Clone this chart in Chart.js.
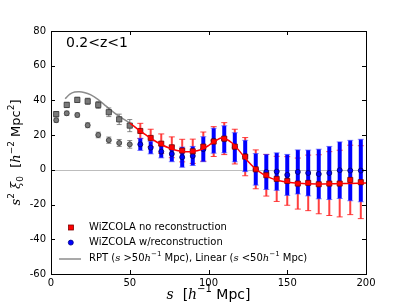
<!DOCTYPE html>
<html><head><meta charset="utf-8">
<script src="https://cdn.jsdelivr.net/npm/chart.js@4.4.1/dist/chart.umd.min.js"></script>
<style>html,body{margin:0;padding:0;background:#fff;overflow:hidden}</style>
</head><body>
<canvas id="c" width="407" height="305"></canvas>
<script>
// ---- data ----
const sBins = [3.3,10.0,16.7,23.3,30.0,36.7,43.3,50.0,56.7,63.3,70.0,76.7,83.3,90.0,96.7,103.3,110.0,116.7,123.3,130.0,136.7,143.3,150.0,156.7,163.3,170.0,176.7,183.3,190.0,196.7];
const xiNoRecon = [32.1,37.4,40.3,39.5,37.4,33.2,29.1,25.5,22.4,18.4,15.1,13.0,11.1,10.7,13.4,16.3,18.0,13.4,7.6,0.3,-3.1,-5.2,-6.4,-7.9,-7.5,-8.3,-7.9,-7.9,-5.8,-7.1];
const errNoRecon = [1.5,1.5,1.5,1.8,2.0,2.5,3.0,3.5,4.4,5.0,5.6,6.0,6.5,7.0,8.4,8.6,9.2,10.0,11.0,11.2,12.0,13.0,14.0,14.7,16.0,17.0,18.4,19.2,20.0,21.0];
const xiRecon = [28.6,32.6,31.6,25.7,20.1,17.1,15.5,14.7,14.7,12.8,10.5,9.2,7.3,8.0,11.9,16.8,17.6,13.0,8.0,0.3,-1.2,-1.0,-2.9,-1.2,-1.8,-2.4,-1.8,-0.2,-0.4,-0.4];
const errRecon = [1.2,1.2,1.2,1.4,1.6,1.8,2.0,2.2,3.5,3.6,3.6,4.5,5.8,5.5,7.2,7.2,7.8,8.4,9.0,9.1,10.1,10.8,11.8,12.7,13.2,14.3,15.3,16.3,17.4,18.0];
const nLinearBins = 8; // bins with s <= 50 shown in gray
const sLinear = [9,12,15,18,21,25,30,35,40,45,50];
const xiLinear = [41.0,43.6,44.8,45.0,44.6,43.3,40.5,36.7,33.0,29.8,27.0];
const sRPT = [50,55,60,65,70,75,80,85,90,95,100,105,108,110,115,120,125,130,135,140,145,150,160,170,180,190,200];
const xiRPT = [27.0,23.5,20.3,17.2,14.6,12.6,11.2,10.5,10.6,11.6,14.0,17.0,18.3,18.2,15.5,10.5,5.0,0.5,-2.7,-4.9,-6.3,-7.1,-7.9,-8.1,-8.0,-7.8,-7.6];
const xTicks = [0,50,100,150,200];
const yTicks = [-60,-40,-20,0,20,40,60,80];
const labels = ['WiZCOLA no reconstruction','WiZCOLA w/reconstruction'];
const zText = '0.2<z<1';

function pts(xs, ys){ return xs.map((x,i)=>({x:x, y:ys[i]})); }
const sLow = sBins.slice(0,nLinearBins), sHigh = sBins.slice(nLinearBins);

const SANS = '"DejaVu Sans", sans-serif';
const SERIF = '"DejaVu Serif", serif';

function drawErr(chart, xs, ys, es, color, lw, capColor, capW){
  const ctx = chart.ctx, xs_ = chart.scales.x, ys_ = chart.scales.y, a = chart.chartArea;
  ctx.save();
  ctx.beginPath(); ctx.rect(a.left, a.top, a.right-a.left, a.bottom-a.top); ctx.clip();
  for (let i=0;i<xs.length;i++){
    const px = xs_.getPixelForValue(xs[i]);
    const y1 = ys_.getPixelForValue(ys[i]-es[i]);
    const y2 = ys_.getPixelForValue(ys[i]+es[i]);
    ctx.strokeStyle = color; ctx.lineWidth = lw;
    ctx.beginPath(); ctx.moveTo(px,y1); ctx.lineTo(px,y2); ctx.stroke();
    ctx.strokeStyle = capColor; ctx.lineWidth = 1;
    ctx.beginPath();
    ctx.moveTo(px-capW/2,y1); ctx.lineTo(px+capW/2,y1);
    ctx.moveTo(px-capW/2,y2); ctx.lineTo(px+capW/2,y2);
    ctx.stroke();
  }
  ctx.restore();
}

function segFont(k, size){
  if (k==='i') return 'italic '+size+'px '+SERIF;
  if (k==='sup'||k==='sub') return Math.round(size*0.7)+'px '+SANS;
  return size+'px '+SANS;
}
function richWidth(ctx, segs, size){
  let w=0; for (const s of segs){ ctx.font = segFont(s.k,size); w += ctx.measureText(s.t).width; } return w;
}
function drawRich(ctx, x, y, segs, size){
  let cx = x;
  ctx.textBaseline = 'middle'; ctx.textAlign = 'left'; ctx.fillStyle = '#000';
  for (const s of segs){
    ctx.font = segFont(s.k,size);
    let dy = 0;
    if (s.k==='sup') dy = -size*0.38;
    if (s.k==='sub') dy = size*0.25;
    ctx.fillText(s.t, cx, y+dy);
    cx += ctx.measureText(s.t).width;
  }
}

const yTitle = [{t:'s',k:'i'},{t:'2',k:'sup'},{t:' ',k:'n'},{t:'ξ',k:'i'},{t:'0',k:'sub'},{t:'  [',k:'n'},{t:'h',k:'i'},{t:'−2',k:'sup'},{t:' Mpc',k:'n'},{t:'2',k:'sup'},{t:']',k:'n'}];
const xTitle = [{t:'s',k:'i'},{t:'  [',k:'n'},{t:'h',k:'i'},{t:'−1',k:'sup'},{t:' Mpc]',k:'n'}];
const lineLabel = [{t:'RPT (',k:'n'},{t:'s',k:'i'},{t:' >50',k:'n'},{t:'h',k:'i'},{t:'−1',k:'sup'},{t:' Mpc), Linear (',k:'n'},{t:'s',k:'i'},{t:' <50',k:'n'},{t:'h',k:'i'},{t:'−1',k:'sup'},{t:' Mpc)',k:'n'}];

const decor = {
  id: 'decor',
  beforeDatasetsDraw(chart){
    const ctx = chart.ctx, a = chart.chartArea, y0 = chart.scales.y.getPixelForValue(0);
    ctx.save(); ctx.strokeStyle = '#bdbdbd'; ctx.lineWidth = 1;
    ctx.beginPath(); ctx.moveTo(a.left, Math.round(y0)+0.5); ctx.lineTo(a.right, Math.round(y0)+0.5); ctx.stroke();
    ctx.restore();
  },
  beforeDatasetDraw(chart, args){
    const key = chart.data.datasets[args.index].key;
    if (key==='grayNo') drawErr(chart, sLow, xiNoRecon.slice(0,nLinearBins), errNoRecon.slice(0,nLinearBins), 'rgba(110,110,110,0.8)', 1.2, 'rgba(110,110,110,0.8)', 5);
    if (key==='grayRe') drawErr(chart, sLow, xiRecon.slice(0,nLinearBins), errRecon.slice(0,nLinearBins), 'rgba(110,110,110,0.8)', 1.2, 'rgba(110,110,110,0.8)', 5);
    if (key==='blue'){
      drawErr(chart, sHigh, xiNoRecon.slice(nLinearBins), errNoRecon.slice(nLinearBins), 'rgba(255,30,30,0.85)', 2, 'rgba(255,30,30,0.85)', 6);
      drawErr(chart, sHigh, xiRecon.slice(nLinearBins), errRecon.slice(nLinearBins), '#0000ff', 4, 'rgba(60,60,255,0.6)', 6);
    }
  },
  afterDraw(chart){
    const ctx = chart.ctx, a = chart.chartArea, sx = chart.scales.x, sy = chart.scales.y;
    ctx.save();
    ctx.strokeStyle = '#000'; ctx.lineWidth = 1;
    ctx.strokeRect(Math.round(a.left)+0.5, Math.round(a.top)+0.5, Math.round(a.right-a.left), Math.round(a.bottom-a.top));
    ctx.beginPath();
    for (const v of xTicks){ const p = Math.round(sx.getPixelForValue(v))+0.5;
      ctx.moveTo(p, a.bottom); ctx.lineTo(p, a.bottom-4); ctx.moveTo(p, a.top); ctx.lineTo(p, a.top+4); }
    for (const v of yTicks){ const p = Math.round(sy.getPixelForValue(v))+0.5;
      ctx.moveTo(a.left, p); ctx.lineTo(a.left+4, p); ctx.moveTo(a.right, p); ctx.lineTo(a.right-4, p); }
    ctx.stroke();
    ctx.fillStyle = '#000'; ctx.font = '14px '+SANS; ctx.textBaseline='middle'; ctx.textAlign='left';
    ctx.fillText(zText, 66, 43.5);
    ctx.font = '10px '+SANS;
    ctx.fillStyle = '#ff0000'; ctx.strokeStyle = '#800000'; ctx.lineWidth = 0.8;
    ctx.fillRect(68.5, 225, 5, 5); ctx.strokeRect(68.5, 225, 5, 5);
    ctx.fillStyle = '#000'; ctx.fillText(labels[0], 89, 227.5);
    ctx.fillStyle = '#0000ff'; ctx.strokeStyle = '#000080';
    ctx.beginPath(); ctx.arc(70.8, 242.6, 2.5, 0, Math.PI*2); ctx.fill(); ctx.stroke();
    ctx.fillStyle = '#000'; ctx.fillText(labels[1], 89, 242.6);
    ctx.strokeStyle = '#8c8c8c'; ctx.lineWidth = 1.5;
    ctx.beginPath(); ctx.moveTo(59, 259); ctx.lineTo(81, 259); ctx.stroke();
    drawRich(ctx, 89, 258, lineLabel, 10);
    const wx = richWidth(ctx, xTitle, 14);
    drawRich(ctx, (a.left+a.right)/2 - wx/2, 295, xTitle, 14);
    const wy = richWidth(ctx, yTitle, 13);
    ctx.translate(17, (a.top+a.bottom)/2);
    ctx.rotate(-Math.PI/2);
    drawRich(ctx, -wy/2, 0, yTitle, 13);
    ctx.restore();
  }
};

new Chart(document.getElementById('c'), {
  type: 'scatter',
  data: {
    datasets: [
      {key:'grayLine', data: pts(sLinear, xiLinear), showLine:true, borderColor:'#8c8c8c', borderWidth:1.5, pointRadius:0, tension:0.3, order:7},
      {key:'grayNo', data: pts(sLow, xiNoRecon.slice(0,nLinearBins)), pointStyle:'rect', pointRadius:3.7, backgroundColor:'#7a7a7a', borderColor:'#333', borderWidth:0.8, order:6},
      {key:'grayRe', data: pts(sLow, xiRecon.slice(0,nLinearBins)), pointStyle:'circle', pointRadius:2.5, backgroundColor:'#7a7a7a', borderColor:'#333', borderWidth:0.8, order:5},
      {key:'blue', label: labels[1], data: pts(sHigh, xiRecon.slice(nLinearBins)), pointStyle:'circle', pointRadius:2.5, backgroundColor:'#0000ff', borderColor:'#000060', borderWidth:0.8, order:4},
      {key:'red', label: labels[0], data: pts(sHigh, xiNoRecon.slice(nLinearBins)), pointStyle:'rect', pointRadius:3.6, backgroundColor:'#ff0000', borderColor:'#700000', borderWidth:0.8, order:3},
      {key:'redLine', data: pts(sRPT, xiRPT), showLine:true, borderColor:'#ff0000', borderWidth:1.5, pointRadius:0, tension:0.3, order:2}
    ]
  },
  options: {
    responsive:false, animation:false, devicePixelRatio:1,
    layout:{padding:{top:31, right:41, left:0, bottom:0}},
    plugins:{legend:{display:false}, tooltip:{enabled:false}},
    scales:{
      x:{type:'linear', min:0, max:200, afterBuildTicks(s){ s.ticks = xTicks.map(v=>({value:v})); },
         afterFit(s){ s.height = 31; },
         grid:{display:false, drawTicks:false}, border:{display:false},
         ticks:{padding:3, color:'#000', font:{family:'DejaVu Sans', size:10}, maxRotation:0}},
      y:{type:'linear', min:-60, max:80, afterBuildTicks(s){ s.ticks = yTicks.map(v=>({value:v})); },
         afterFit(s){ s.width = 51; },
         grid:{display:false, drawTicks:false}, border:{display:false},
         ticks:{padding:5, color:'#000', font:{family:'DejaVu Sans', size:10}}}
    }
  },
  plugins:[decor]
});
</script>
</body></html>
